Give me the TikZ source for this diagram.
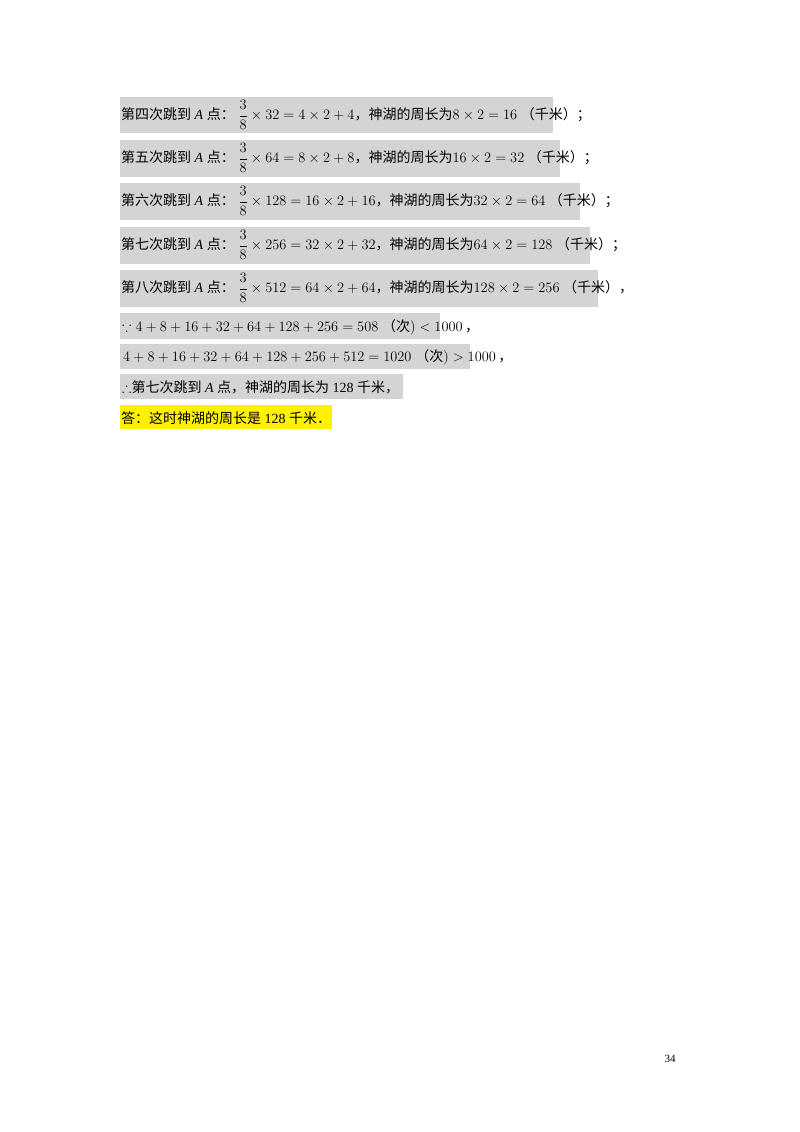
\documentclass[tikz,border=0pt]{standalone}
\usepackage{amssymb}
\usepackage{fontspec}
\setmainfont{Liberation Serif}
\newfontfamily\cjk{Noto Sans CJK SC}
\begin{document}
\begin{tikzpicture}[x=1pt,y=-1pt,
  tx/.style={anchor=west,inner sep=0pt,font=\fontsize{14}{16}\selectfont},
  gbox/.style={fill=black!17,draw=none},
  ybox/.style={fill=yellow,draw=none}]
\useasboundingbox[fill=white] (0,0) rectangle (800,1132);
\newcommand\fr{{\displaystyle{3\over8}}}
\fill[gbox] (120,97) rectangle (553,133);
\fill[gbox] (120,140) rectangle (560,177);
\fill[gbox] (120,183) rectangle (580,220);
\fill[gbox] (120,227) rectangle (590,264);
\fill[gbox] (120,270) rectangle (598,307);
\fill[gbox] (120,313) rectangle (440,339);
\fill[gbox] (120,344) rectangle (470,369);
\fill[gbox] (120,374) rectangle (403,399);
\fill[ybox] (120,405) rectangle (332,429);
\node[tx] (l1) at (121,115) {{\cjk 第四次跳到} \textit{A} {\cjk 点：} $\fr\times32=4\times2+4${\cjk ，神湖的周长为}$8\times2=16$\ {\cjk （千米）；}};
\node[tx] (l2) at (121,158) {{\cjk 第五次跳到} \textit{A} {\cjk 点：} $\fr\times64=8\times2+8${\cjk ，神湖的周长为}$16\times2=32$\ {\cjk （千米）；}};
\node[tx] (l3) at (121,201) {{\cjk 第六次跳到} \textit{A} {\cjk 点：} $\fr\times128=16\times2+16${\cjk ，神湖的周长为}$32\times2=64$\ {\cjk （千米）；}};
\node[tx] (l4) at (121,245) {{\cjk 第七次跳到} \textit{A} {\cjk 点：} $\fr\times256=32\times2+32${\cjk ，神湖的周长为}$64\times2=128$\ {\cjk （千米）；}};
\node[tx] (l5) at (121,288) {{\cjk 第八次跳到} \textit{A} {\cjk 点：} $\fr\times512=64\times2+64${\cjk ，神湖的周长为}$128\times2=256$\ {\cjk （千米），}};
\node[tx] (l6) at (122,327) {$\because4+8+16+32+64+128+256=508$\ {\cjk （次}$)<1000$\,{\cjk ，}};
\node[tx] (l7) at (123,357) {$4+8+16+32+64+128+256+512=1020$\ {\cjk （次}$)>1000$\,{\cjk ，}};
\node[tx] (l8) at (122,387) {$\therefore${\cjk 第七次跳到} \textit{A} {\cjk 点，神湖的周长为} 128 {\cjk 千米，}};
\node[tx] (l9) at (121,418) {{\cjk 答：这时神湖的周长是} 128 {\cjk 千米．}};
\node[anchor=center,inner sep=0pt,font=\fontsize{11}{13}\selectfont] (pg) at (670,1059) {34};
\end{tikzpicture}
\end{document}
